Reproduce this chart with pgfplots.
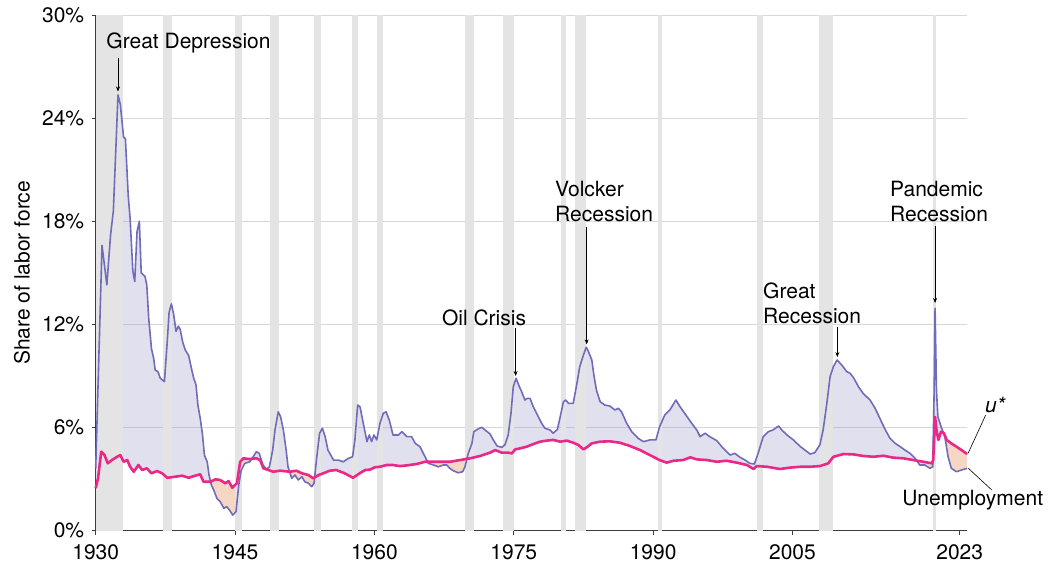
\documentclass[border=0pt]{standalone}
\usepackage{fontspec}
\setmainfont{TeX Gyre Heros}
\usepackage{pgfplots}
\pgfplotsset{compat=1.18}
\usepackage{pgfplotstable}
\usepgfplotslibrary{fillbetween}
\usetikzlibrary{arrows.meta}
\definecolor{uline}{RGB}{112,108,186}
\definecolor{sline}{RGB}{233,40,135}
\definecolor{lav}{RGB}{152,152,198}
\definecolor{peach}{RGB}{226,141,84}
\definecolor{band}{RGB}{228,228,228}
\definecolor{gridc}{RGB}{215,215,215}
\definecolor{axc}{RGB}{60,60,60}

\pgfplotstableread{
year u
1930.0 3.63
1930.68 16.6
1931.2 14.3
1931.6 17.2
1931.9 18.6
1932.4 25.35
1932.65 24.8
1933.0 22.9
1933.2 22.8
1933.5 19.5
1933.7 18.2
1934.0 15.1
1934.2 14.5
1934.45 17.4
1934.7 18.0
1934.9 15.0
1935.3 14.8
1935.5 14.3
1935.7 12.4
1936.0 10.6
1936.25 10.0
1936.4 9.35
1936.7 9.25
1936.95 8.87
1937.4 8.67
1937.7 11.0
1937.9 12.7
1938.15 13.2
1938.4 12.55
1938.65 11.6
1938.9 11.9
1939.1 11.7
1939.35 11.0
1939.65 10.5
1940.0 10.2
1940.3 9.45
1940.55 8.87
1940.8 8.48
1941.0 7.31
1941.25 6.54
1941.5 5.57
1941.7 4.40
1942.0 4.01
1942.2 3.24
1942.45 2.66
1942.7 2.37
1943.05 1.88
1943.4 1.69
1943.8 1.30
1944.1 1.40
1944.4 1.20
1944.75 0.91
1945.1 1.10
1945.4 2.66
1945.65 3.5
1946.05 3.92
1946.6 4.01
1946.95 4.30
1947.3 4.6
1947.6 4.5
1948.0 3.82
1948.4 3.57
1948.7 3.72
1949.05 4.69
1949.3 5.86
1949.65 6.92
1949.9 6.63
1950.2 5.86
1950.5 4.69
1950.7 3.72
1951.1 3.05
1951.45 3.24
1951.8 2.95
1952.2 3.14
1952.5 2.85
1952.9 2.76
1953.25 2.56
1953.5 2.76
1953.8 4.3
1954.1 5.67
1954.4 5.96
1954.7 5.47
1955.0 4.69
1955.3 4.4
1955.6 4.11
1956.1 4.11
1956.65 4.01
1957.2 4.21
1957.65 4.3
1957.9 5.28
1958.2 7.31
1958.45 7.21
1958.8 6.25
1959.2 5.18
1959.45 5.57
1959.7 5.18
1959.95 5.57
1960.25 5.28
1960.6 6.25
1960.95 6.83
1961.25 6.92
1961.6 6.44
1962.0 5.57
1962.6 5.57
1962.95 5.76
1963.5 5.47
1964.0 5.47
1964.4 5.08
1964.9 4.89
1965.45 4.3
1965.8 3.92
1966.35 3.82
1966.9 3.72
1967.4 3.82
1967.8 3.82
1968.1 3.63
1968.5 3.49
1969.0 3.37
1969.5 3.43
1969.75 3.72
1970.1 4.5
1970.5 5.08
1970.7 5.76
1971.1 5.9
1971.55 6.02
1971.9 5.86
1972.45 5.63
1972.8 5.28
1973.2 4.93
1973.7 4.85
1974.05 4.99
1974.4 5.57
1974.7 6.83
1974.95 8.38
1975.25 8.87
1975.6 8.38
1975.85 8.09
1976.2 7.6
1976.45 7.7
1976.75 7.7
1977.1 7.21
1977.55 6.73
1978.0 6.25
1978.35 5.96
1978.9 5.86
1979.25 5.67
1979.7 5.9
1980.0 6.63
1980.35 7.5
1980.6 7.6
1980.9 7.41
1981.4 7.41
1981.8 8.57
1982.1 9.54
1982.5 10.22
1982.8 10.67
1983.0 10.47
1983.4 9.93
1983.65 8.96
1983.9 8.18
1984.3 7.5
1984.8 7.31
1985.35 7.25
1985.9 7.02
1986.25 7.12
1986.6 6.92
1987.15 6.25
1987.7 5.76
1988.4 5.37
1988.95 5.18
1989.65 5.28
1990.3 5.28
1990.7 6.05
1991.25 6.73
1991.8 7.02
1992.45 7.6
1992.9 7.21
1993.4 6.83
1994.15 6.25
1994.7 5.86
1995.05 5.47
1995.6 5.67
1996.1 5.47
1996.85 5.24
1997.55 4.79
1998.3 4.40
1998.8 4.5
1999.35 4.27
1999.9 4.11
2000.4 3.92
2000.9 3.88
2001.3 4.5
2001.85 5.47
2002.4 5.76
2002.9 5.86
2003.5 6.09
2003.85 5.86
2004.4 5.57
2005.1 5.28
2005.85 4.89
2006.35 4.69
2006.9 4.46
2007.4 4.54
2007.95 4.99
2008.3 5.86
2008.7 7.41
2009.05 8.96
2009.4 9.54
2009.8 9.93
2010.3 9.64
2010.85 9.25
2011.2 9.16
2011.55 8.92
2012.1 8.38
2012.6 7.99
2013.35 7.6
2013.9 7.12
2014.4 6.54
2015.0 5.86
2015.5 5.37
2016.05 5.08
2016.6 4.89
2017.1 4.69
2017.65 4.5
2018.2 4.21
2018.7 3.82
2019.25 3.82
2019.8 3.63
2020.1 3.72
2020.25 8.18
2020.35 12.94
2020.5 8.18
2020.65 6.63
2021.0 6.05
2021.4 5.47
2021.75 4.3
2022.1 3.63
2022.65 3.43
2023.2 3.53
2023.8 3.63
}\udata

\pgfplotstableread{
year s
1930.0 2.47
1930.25 3.05
1930.6 4.6
1930.95 4.4
1931.3 3.92
1931.75 4.11
1932.3 4.3
1932.65 4.4
1933.0 4.01
1933.4 4.11
1933.7 3.72
1934.1 3.43
1934.6 3.82
1935.0 3.53
1935.5 3.63
1936.0 3.34
1936.6 3.47
1937.15 3.34
1937.7 3.08
1938.55 3.14
1939.3 3.2
1940.0 3.08
1940.7 3.2
1941.25 3.28
1941.6 2.85
1942.35 2.85
1942.9 2.99
1943.4 2.95
1943.95 2.76
1944.3 2.89
1944.7 2.5
1945.2 2.76
1945.55 4.01
1945.9 4.21
1946.5 4.17
1947.3 4.21
1947.7 4.11
1948.05 3.63
1948.6 3.53
1949.1 3.43
1949.85 3.49
1950.9 3.43
1951.6 3.49
1952.2 3.34
1952.9 3.24
1953.4 3.05
1954.0 3.24
1954.5 3.34
1955.2 3.49
1955.9 3.53
1956.8 3.34
1957.7 3.08
1958.3 3.3
1959.0 3.53
1959.5 3.55
1960.05 3.69
1960.6 3.72
1961.3 3.82
1962.0 3.82
1962.75 3.76
1963.5 3.8
1964.55 3.88
1965.45 4.01
1966.0 4.01
1967.1 4.01
1968.15 4.01
1969.2 4.11
1970.3 4.21
1971.4 4.35
1972.45 4.54
1973.0 4.69
1973.7 4.54
1974.4 4.54
1974.8 4.5
1975.15 4.73
1975.7 4.79
1976.4 4.89
1977.1 5.04
1977.85 5.18
1978.55 5.24
1979.25 5.28
1980.0 5.18
1980.7 5.24
1981.4 5.12
1981.95 4.99
1982.5 4.73
1982.85 4.85
1983.4 5.08
1984.3 5.18
1985.35 5.2
1986.4 5.12
1987.5 4.93
1988.6 4.69
1989.65 4.4
1990.7 4.11
1991.45 3.96
1992.2 4.07
1993.25 4.11
1994.0 4.27
1994.7 4.15
1995.8 4.11
1996.85 4.01
1997.9 4.07
1999.0 3.96
2000.1 3.82
2000.8 3.59
2001.15 3.76
2002.25 3.72
2003.65 3.59
2004.75 3.67
2005.85 3.72
2006.9 3.72
2007.95 3.76
2008.85 3.92
2009.4 4.3
2010.5 4.46
2011.55 4.44
2012.6 4.35
2013.7 4.3
2014.8 4.36
2015.85 4.25
2016.95 4.21
2018.0 4.11
2019.1 4.01
2020.0 3.92
2020.15 4.11
2020.35 6.63
2020.5 5.86
2020.7 5.28
2021.0 5.76
2021.3 5.67
2021.6 5.28
2022.1 5.08
2022.65 4.89
2023.2 4.69
2023.8 4.46
}\sdata

\begin{document}
\begin{tikzpicture}
\begin{axis}[
  at={(0,0)}, anchor=south west,
  scale only axis, width=871.6pt, height=515.7pt,
  xmin=1930, xmax=2023.82, ymin=0, ymax=30,
  axis x line*=bottom, axis y line*=left,
  axis line style={axc, line width=0.8pt},
  xtick={1930,1945,1960,1975,1990,2005,2023},
  xticklabels={1930,1945,1960,1975,1990,2005,2023},
  ytick={0,6,12,18,24,30},
  yticklabels={0\%,6\%,12\%,18\%,24\%,30\%},
  tick align=outside, major tick length=4pt,
  tick style={axc, line width=0.8pt},
  ymajorgrids, major grid style={gridc, line width=0.7pt},
  ticklabel style={font=\fontsize{21}{25}\selectfont},
  /pgf/number format/assume math mode=true,
  xticklabel style={yshift=-6pt},
  yticklabel style={xshift=-4pt},
  ylabel={Share of labor force},
  ylabel style={font=\fontsize{21}{25}\selectfont, at={(axis description cs:-0.0846,0.5)}, anchor=center},
  clip=false,
]
% recession bands
\addplot[draw=none, fill=band, forget plot] coordinates {(1930,0) (1930,30) (1932.9,30) (1932.9,0)} -- cycle;
\addplot[draw=none, fill=band, forget plot] coordinates {(1937.2,0) (1937.2,30) (1938.2,30) (1938.2,0)} -- cycle;
\addplot[draw=none, fill=band, forget plot] coordinates {(1945.0,0) (1945.0,30) (1945.7,30) (1945.7,0)} -- cycle;
\addplot[draw=none, fill=band, forget plot] coordinates {(1948.8,0) (1948.8,30) (1949.7,30) (1949.7,0)} -- cycle;
\addplot[draw=none, fill=band, forget plot] coordinates {(1953.5,0) (1953.5,30) (1954.2,30) (1954.2,0)} -- cycle;
\addplot[draw=none, fill=band, forget plot] coordinates {(1957.55,0) (1957.55,30) (1958.27,30) (1958.27,0)} -- cycle;
\addplot[draw=none, fill=band, forget plot] coordinates {(1960.25,0) (1960.25,30) (1960.96,30) (1960.96,0)} -- cycle;
\addplot[draw=none, fill=band, forget plot] coordinates {(1969.75,0) (1969.75,30) (1970.7,30) (1970.7,0)} -- cycle;
\addplot[draw=none, fill=band, forget plot] coordinates {(1973.8,0) (1973.8,30) (1975.0,30) (1975.0,0)} -- cycle;
\addplot[draw=none, fill=band, forget plot] coordinates {(1980.05,0) (1980.05,30) (1980.6,30) (1980.6,0)} -- cycle;
\addplot[draw=none, fill=band, forget plot] coordinates {(1981.6,0) (1981.6,30) (1982.8,30) (1982.8,0)} -- cycle;
\addplot[draw=none, fill=band, forget plot] coordinates {(1990.55,0) (1990.55,30) (1991.0,30) (1991.0,0)} -- cycle;
\addplot[draw=none, fill=band, forget plot] coordinates {(2001.15,0) (2001.15,30) (2001.8,30) (2001.8,0)} -- cycle;
\addplot[draw=none, fill=band, forget plot] coordinates {(2007.86,0) (2007.86,30) (2009.33,30) (2009.33,0)} -- cycle;
\addplot[draw=none, fill=band, forget plot] coordinates {(2020.12,0) (2020.12,30) (2020.47,30) (2020.47,0)} -- cycle;

\addplot[draw=none, name path=U, forget plot] table[x=year,y=u] {\udata};
\addplot[draw=none, name path=S, forget plot] table[x=year,y=s] {\sdata};
% unemployment above u*: lavender; below: peach
\addplot[fill=lav, fill opacity=0.3, forget plot] fill between[of=U and S, soft clip={domain=1930:1942.37}];
\addplot[fill=lav, fill opacity=0.3, forget plot] fill between[of=U and S, soft clip={domain=1946.85:1950.87}];
\addplot[fill=lav, fill opacity=0.3, forget plot] fill between[of=U and S, soft clip={domain=1953.57:1965.72}];
\addplot[fill=lav, fill opacity=0.3, forget plot] fill between[of=U and S, soft clip={domain=1969.96:2018.36}];
\addplot[fill=lav, fill opacity=0.3, forget plot] fill between[of=U and S, soft clip={domain=2020.11:2021.32}];
\addplot[fill=peach, fill opacity=0.35, forget plot] fill between[of=U and S, soft clip={domain=1942.37:1946.85}];
\addplot[fill=peach, fill opacity=0.35, forget plot] fill between[of=U and S, soft clip={domain=1950.87:1953.57}];
\addplot[fill=peach, fill opacity=0.35, forget plot] fill between[of=U and S, soft clip={domain=1965.72:1969.96}];
\addplot[fill=peach, fill opacity=0.35, forget plot] fill between[of=U and S, soft clip={domain=2018.36:2020.11}];
\addplot[fill=peach, fill opacity=0.35, forget plot] fill between[of=U and S, soft clip={domain=2021.32:2023.8}];

\addplot[uline, line width=1.6pt, line join=round] table[x=year,y=u] {\udata};
\addplot[sline, line width=2.6pt, line join=round] table[x=year,y=s] {\sdata};

% annotations
\begin{scope}[every node/.style={font=\fontsize{21}{25}\selectfont, inner sep=0pt}]
\node at (axis cs:1939.99,28.37) {Great Depression};
\draw[-{Stealth[length=5pt,width=4pt]}, line width=0.6pt] (axis cs:1932.4,27.5) -- (axis cs:1932.4,25.55);
\node at (axis cs:1971.8,12.39) {Oil Crisis};
\draw[-{Stealth[length=5pt,width=4pt]}, line width=0.6pt] (axis cs:1975.2,11.8) -- (axis cs:1975.2,9.0);
\node[anchor=west, align=left] at (axis cs:1979.44,19.13) {Volcker\\Recession};
\draw[-{Stealth[length=5pt,width=4pt]}, line width=0.6pt] (axis cs:1982.85,17.68) -- (axis cs:1982.85,10.84);
\node[anchor=west, align=left] at (axis cs:2001.83,13.2) {Great\\Recession};
\draw[-{Stealth[length=5pt,width=4pt]}, line width=0.6pt] (axis cs:2009.83,11.87) -- (axis cs:2009.83,10.1);
\node[anchor=west, align=left] at (axis cs:2015.5,19.14) {Pandemic\\Recession};
\draw[-{Stealth[length=5pt,width=4pt]}, line width=0.6pt] (axis cs:2020.35,17.73) -- (axis cs:2020.35,13.25);
\node at (axis cs:2026.8,7.31) {\itshape u*};
\draw[line width=0.6pt] (axis cs:2025.8,6.73) -- (axis cs:2023.9,4.5);
\node at (axis cs:2024.4,1.79) {Unemployment};
\draw[line width=0.6pt] (axis cs:2023.93,3.63) -- (axis cs:2026.45,2.37);
\end{scope}
\end{axis}
\path (-95.7pt,-40.3pt) rectangle (958.3pt,530.7pt);
\end{tikzpicture}
\end{document}
